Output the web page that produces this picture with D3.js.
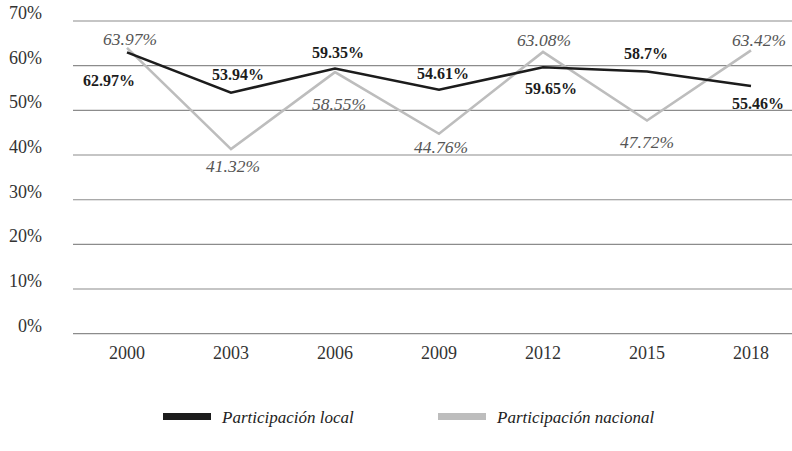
<!DOCTYPE html>
<html><head><meta charset="utf-8">
<script src="https://cdn.jsdelivr.net/npm/d3@7"></script>
</head>
<body style="margin:0">
<svg id="chart" width="792" height="451"></svg>
<script>
// ---- data ----
const years = ["2000","2003","2006","2009","2012","2015","2018"];
const localValues = [62.97, 53.94, 59.35, 54.61, 59.65, 58.7, 55.46];
const nationalValues = [63.97, 41.32, 58.55, 44.76, 63.08, 47.72, 63.42];
const localLabels = ["62.97%","53.94%","59.35%","54.61%","59.65%","58.7%","55.46%"];
const nationalLabels = ["63.97%","41.32%","58.55%","44.76%","63.08%","47.72%","63.42%"];
const yTicks = [0,10,20,30,40,50,60,70];
const seriesNames = ["Participación local","Participación nacional"];

// ---- label placement (offsets from the point, px) ----
const localLabelOffset = [[-18,34],[7,-13],[3,-11],[4,-11],[8,27],[-1,-12],[7,23]];
const nationalLabelOffset = [[3,-3],[2,23],[4,38],[2,19],[1,-6],[0,27],[8,-4]];

const svg = d3.select("#chart");
const x = d3.scalePoint().domain(years).range([75, 803]).padding(0.5);
const y = d3.scaleLinear().domain([0,70]).range([333.7, 21]);

// gridlines
svg.append("g").selectAll("line").data(yTicks).join("line")
  .attr("x1",73).attr("x2",792)
  .attr("y1",d=>y(d)).attr("y2",d=>y(d))
  .attr("stroke","#8c8c8c").attr("stroke-width",d=>d===0?1.3:1.1);

// y labels
svg.append("g").selectAll("text").data(yTicks).join("text")
  .attr("x",42).attr("y",d=>y(d)-2)
  .attr("text-anchor","end").attr("font-family",d=>"Liberation Serif")
  .attr("font-size",18).attr("fill","#333")
  .text(d=>d+"%");

// x labels
svg.append("g").selectAll("text").data(years).join("text")
  .attr("x",d=>x(d)).attr("y",359)
  .attr("text-anchor","middle").attr("font-family",d=>"Liberation Serif")
  .attr("font-size",18).attr("fill","#333")
  .text(d=>d);

const line = d3.line().x((d,i)=>x(years[i])).y(d=>y(d));

svg.append("path").datum(nationalValues).attr("d",line)
  .attr("fill","none").attr("stroke","#bdbdbd").attr("stroke-width",2.6);
svg.append("path").datum(localValues).attr("d",line)
  .attr("fill","none").attr("stroke","#1c1c1c").attr("stroke-width",2.6);

// national labels
svg.append("g").selectAll("text").data(nationalValues).join("text")
  .attr("x",(d,i)=>x(years[i])+nationalLabelOffset[i][0])
  .attr("y",(d,i)=>y(d)+nationalLabelOffset[i][1])
  .attr("text-anchor","middle").attr("font-family",d=>"Liberation Serif")
  .attr("font-size",17.5).attr("font-style","italic").attr("fill","#555")
  .text((d,i)=>nationalLabels[i]);

// local labels
svg.append("g").selectAll("text").data(localValues).join("text")
  .attr("x",(d,i)=>x(years[i])+localLabelOffset[i][0])
  .attr("y",(d,i)=>y(d)+localLabelOffset[i][1])
  .attr("text-anchor","middle").attr("font-family",d=>"Liberation Serif")
  .attr("font-size",16).attr("font-weight","bold").attr("fill","#1c1c1c")
  .text((d,i)=>localLabels[i]);

// legend
const legendColors = ["#1c1c1c","#bdbdbd"];
const legendX = [163, 438];
const lg = svg.append("g").selectAll("g").data(seriesNames).join("g")
  .attr("transform",(d,i)=>`translate(${legendX[i]},413)`);
lg.append("rect").attr("width",48).attr("height",7).attr("fill",(d,i)=>legendColors[i]);
lg.append("text").attr("x",59).attr("y",10).attr("font-family",d=>"Liberation Serif")
  .attr("font-size",17).attr("font-style","italic").attr("fill","#222")
  .text(d=>d);
</script>
</body></html>
